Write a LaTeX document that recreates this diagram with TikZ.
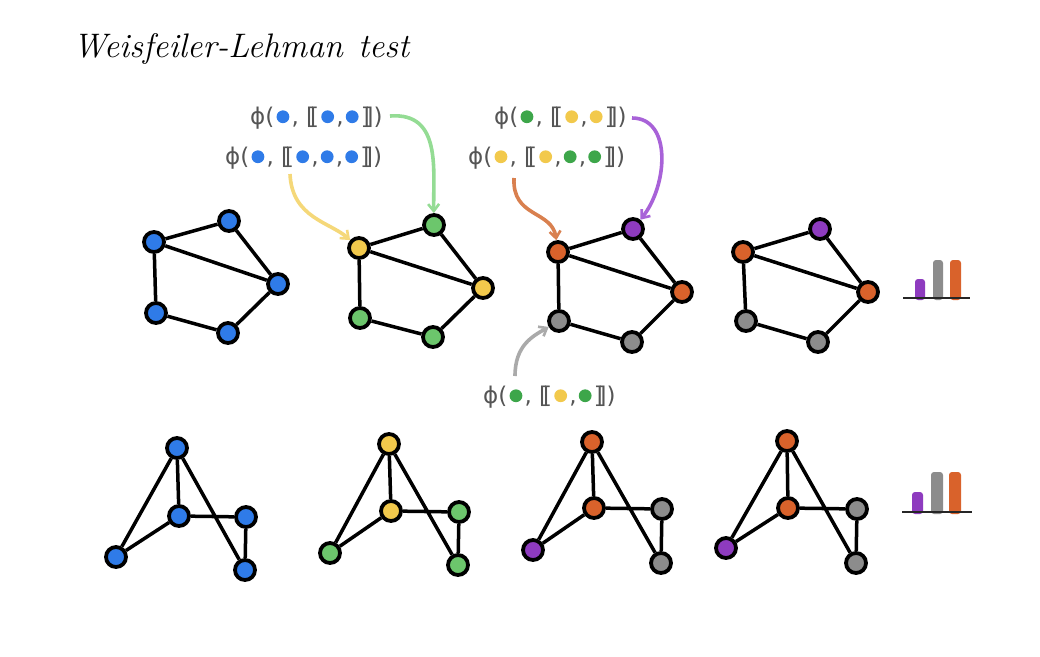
\documentclass[tikz,border=0pt]{standalone}
\usepackage{fontspec}
\newfontfamily\labfont{DejaVu Sans}
\usetikzlibrary{arrows.meta}
\definecolor{cblue}{HTML}{2F7BE8}
\definecolor{cgreen}{HTML}{6CC66C}
\definecolor{cyellow}{HTML}{F2C94C}
\definecolor{corange}{HTML}{D9622B}
\definecolor{cpurple}{HTML}{8E3BBF}
\definecolor{cgray}{HTML}{8C8C8C}
\definecolor{dgreen}{HTML}{3DA64A}
\definecolor{ayellow}{HTML}{F5D879}
\definecolor{agreen}{HTML}{94DC94}
\definecolor{aorange}{HTML}{D9804F}
\definecolor{apurple}{HTML}{A862D8}
\definecolor{agray}{HTML}{AAAAAA}
\definecolor{labgray}{HTML}{555555}
\newcommand\dt[1]{\hspace{2.2pt}\tikz[baseline=-0.33em,x=1pt,y=1pt]\fill[#1] (0,0) circle (6.4pt);\hspace{2.2pt}}
\newcommand\lbr{[\kern-0.22em[}
\newcommand\rbr{]\kern-0.22em]}
\begin{document}
\begin{tikzpicture}[x=1pt,y=-1pt,
  vtx/.style={circle,draw=black,line width=3.8pt,minimum size=20pt,inner sep=0pt},
  edg/.style={line width=3.5pt,black},
  lab/.style={anchor=west,inner sep=0pt,text=labgray,font=\labfont\fontsize{23}{26}\selectfont},
  arr/.style={line width=3.6pt,-{Straight Barb[length=7pt,width=11pt,line width=2.6pt]}},
  bar/.style={rounded corners=3pt}]
\useasboundingbox (0,0) rectangle (1040,656);
\fill[white] (0,0) rectangle (1040,656);

\node[anchor=base west,inner sep=0pt,font=\fontsize{34}{40}\selectfont\itshape] (title) at (73,57) {Weisfeiler-Lehman\hspace{0.45em}test};

% labels
\node[lab] (L1) at (250,118) {ϕ(\dt{cblue}, \lbr\dt{cblue},\dt{cblue}\rbr)};
\node[lab] (L2) at (225,158) {ϕ(\dt{cblue}, \lbr\dt{cblue},\dt{cblue},\dt{cblue}\rbr)};
\node[lab] (R1) at (494,118) {ϕ(\dt{dgreen}, \lbr\dt{cyellow},\dt{cyellow}\rbr)};
\node[lab] (R2) at (468,158) {ϕ(\dt{cyellow}, \lbr\dt{cyellow},\dt{dgreen},\dt{dgreen}\rbr)};
\node[lab] (B1) at (483,397) {ϕ(\dt{dgreen}, \lbr\dt{cyellow},\dt{dgreen}\rbr)};

% graph 1
\node[vtx,fill=cblue] (a1) at (154,242) {};
\node[vtx,fill=cblue] (b1) at (229,221) {};
\node[vtx,fill=cblue] (c1) at (278,284) {};
\node[vtx,fill=cblue] (d1) at (156,313) {};
\node[vtx,fill=cblue] (e1) at (228,333) {};
% graph 2
\node[vtx,fill=cyellow] (a2) at (359,248) {};
\node[vtx,fill=cgreen] (b2) at (434,225) {};
\node[vtx,fill=cyellow] (c2) at (483,288) {};
\node[vtx,fill=cgreen] (d2) at (360,318) {};
\node[vtx,fill=cgreen] (e2) at (433,337) {};
% graph 3
\node[vtx,fill=corange] (a3) at (558,252) {};
\node[vtx,fill=cpurple] (b3) at (633,229) {};
\node[vtx,fill=corange] (c3) at (682,292) {};
\node[vtx,fill=cgray] (d3) at (559,321) {};
\node[vtx,fill=cgray] (e3) at (632,342) {};
% graph 4
\node[vtx,fill=corange] (a4) at (743,252) {};
\node[vtx,fill=cpurple] (b4) at (820,229) {};
\node[vtx,fill=corange] (c4) at (868,292) {};
\node[vtx,fill=cgray] (d4) at (746,321) {};
\node[vtx,fill=cgray] (e4) at (818,342) {};
\foreach \g in {1,2,3,4}{
  \draw[edg] (a\g)--(b\g) (a\g)--(c\g) (b\g)--(c\g) (a\g)--(d\g) (d\g)--(e\g) (e\g)--(c\g);
}

% graph 5
\node[vtx,fill=cblue] (t5) at (177,448) {};
\node[vtx,fill=cblue] (m5) at (179,516) {};
\node[vtx,fill=cblue] (r5) at (246,517) {};
\node[vtx,fill=cblue] (l5) at (116,557) {};
\node[vtx,fill=cblue] (s5) at (245,570) {};
% graph 6
\node[vtx,fill=cyellow] (t6) at (389,444) {};
\node[vtx,fill=cyellow] (m6) at (391,511) {};
\node[vtx,fill=cgreen] (r6) at (459,512) {};
\node[vtx,fill=cgreen] (l6) at (330,553) {};
\node[vtx,fill=cgreen] (s6) at (458,565) {};
% graph 7
\node[vtx,fill=corange] (t7) at (592,442) {};
\node[vtx,fill=corange] (m7) at (594,508) {};
\node[vtx,fill=cgray] (r7) at (662,509) {};
\node[vtx,fill=cpurple] (l7) at (533,550) {};
\node[vtx,fill=cgray] (s7) at (661,563) {};
% graph 8
\node[vtx,fill=corange] (t8) at (787,441) {};
\node[vtx,fill=corange] (m8) at (788,508) {};
\node[vtx,fill=cgray] (r8) at (857,509) {};
\node[vtx,fill=cpurple] (l8) at (726,548) {};
\node[vtx,fill=cgray] (s8) at (856,563) {};
\foreach \g in {5,6,7,8}{
  \draw[edg] (t\g)--(m\g) (t\g)--(l\g) (t\g)--(s\g) (m\g)--(l\g) (m\g)--(r\g) (r\g)--(s\g);
}

% arrows
\coordinate (ys) at (290,174);
\coordinate (gs) at (390,116);
\coordinate (os) at (514,178);
\coordinate (ps) at (632,118);
\coordinate (hs) at (515,376);
\draw[arr,ayellow] (ys) .. controls (292,218) and (330,222) .. (a2);
\draw[arr,agreen] (gs) .. controls (442,112) and (433,170) .. (b2);
\draw[arr,aorange] (os) .. controls (512,218) and (552,210) .. (a3);
\draw[arr,apurple] (ps) .. controls (672,118) and (668,185) .. (b3);
\draw[arr,agray] (hs) .. controls (515,345) and (533,336) .. (d3);

% histograms
\fill[cpurple,bar] (915,300) -- (915,279) -- (925,279) -- (925,300) -- cycle;
\fill[cgray,bar] (933,300) -- (933,260) -- (943,260) -- (943,300) -- cycle;
\fill[corange,bar] (950,300) -- (950,260) -- (961,260) -- (961,300) -- cycle;
\draw[line width=2.8pt,black!85] (903,298) -- (970,298);
\fill[cpurple,bar] (912,514) -- (912,492) -- (923,492) -- (923,514) -- cycle;
\fill[cgray,bar] (931,514) -- (931,472) -- (943,472) -- (943,514) -- cycle;
\fill[corange,bar] (949,514) -- (949,472) -- (961,472) -- (961,514) -- cycle;
\draw[line width=2.8pt,black!85] (902,512) -- (972,512);
\end{tikzpicture}
\end{document}
